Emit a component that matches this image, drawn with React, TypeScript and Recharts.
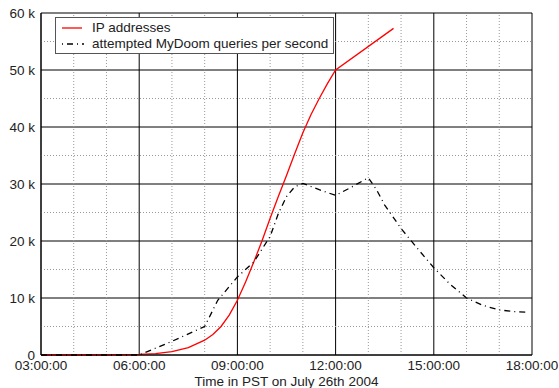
import React from 'react'
import { LineChart, Line, XAxis, YAxis, CartesianGrid, ReferenceLine, Legend } from 'recharts'

// hours since midnight, PST
const ipHours = [3, 4, 5, 6, 6.5, 7, 7.5, 8, 8.25, 8.5, 8.75, 9, 9.25, 9.5, 9.75, 10, 10.25, 10.5, 10.75, 11, 11.25, 11.5, 11.75, 12, 13.77]
const ipValues = [0, 0, 0, 100, 250, 600, 1300, 2600, 3600, 5000, 7000, 9600, 12800, 16300, 20000, 24000, 27800, 31500, 35300, 39000, 42200, 45000, 47600, 50000, 57300]

const queryHours = [3, 4, 5, 6, 7, 8, 8.4, 9, 9.5, 10, 10.25, 10.5, 10.75, 11, 11.5, 12, 12.5, 13, 13.25, 13.5, 14, 14.5, 15, 15.5, 16, 16.5, 17, 17.5, 17.9]
const queryValues = [0, 0, 0, 0, 2400, 5000, 9600, 13700, 16300, 20800, 24800, 27800, 29500, 30100, 29000, 28000, 29500, 31100, 29000, 26300, 22200, 18700, 15300, 12400, 10000, 8700, 7900, 7600, 7500]

const xTicks = [3, 6, 9, 12, 15, 18]
const xMinor = [4, 5, 7, 8, 10, 11, 13, 14, 16, 17]
const yTicks = [0, 10000, 20000, 30000, 40000, 50000, 60000]
const yMinor = [5000, 15000, 25000, 35000, 45000, 55000]

const ipData = ipHours.map((t, i) => ({ t, v: ipValues[i] }))
const queryData = queryHours.map((t, i) => ({ t, v: queryValues[i] }))

const fmtTime = (h: number) => `${String(h).padStart(2, '0')}:00:00`
const fmtK = (v: number) => (v === 0 ? '0' : `${v / 1000} k`)

const font = '"Liberation Sans", Arial, sans-serif'

const LegendBox = () => (
  <div
    style={{
      width: 279,
      height: 37,
      border: '1px solid #555',
      background: '#fff',
      fontFamily: font,
      fontSize: 13.5,
      color: '#222',
      boxSizing: 'border-box',
      position: 'relative',
    }}
  >
    <svg width={30} height={36} style={{ position: 'absolute', left: 0, top: 0 }}>
      <line x1={6} x2={26} y1={10} y2={10} stroke="#ff0000" strokeWidth={1.3} />
      <line x1={6} x2={28} y1={26} y2={26} stroke="#000" strokeWidth={1.3} strokeDasharray="1 4 6 4" />
    </svg>
    <div style={{ position: 'absolute', left: 36, top: 2, lineHeight: '16px', whiteSpace: 'nowrap' }}>IP addresses</div>
    <div style={{ position: 'absolute', left: 36, top: 18, lineHeight: '16px', whiteSpace: 'nowrap' }}>
      attempted MyDoom queries per second
    </div>
  </div>
)

export default function App() {
  return (
    <div style={{ position: 'absolute', left: 0, top: 0, background: '#fff' }}>
      <LineChart width={559} height={388} margin={{ top: 13, right: 27, left: 0, bottom: 0 }}>
        <CartesianGrid stroke="#000" strokeWidth={1} />
        {xMinor.map(h => (
          <ReferenceLine key={'x' + h} x={h} stroke="#999" strokeDasharray="1 2" />
        ))}
        {yMinor.map(v => (
          <ReferenceLine key={'y' + v} y={v} stroke="#999" strokeDasharray="1 2" />
        ))}
        <XAxis
          type="number"
          dataKey="t"
          domain={[3, 18]}
          ticks={xTicks}
          tickFormatter={fmtTime}
          allowDuplicatedCategory={false}
          height={33}
          tickSize={0}
          tickMargin={5}
          axisLine={{ stroke: '#000' }}
          tick={{ fill: '#222', fontSize: 13.5, fontFamily: font }}
          label={{
            value: 'Time in PST on July 26th 2004',
            position: 'insideBottom',
            offset: 2,
            style: { fill: '#222', fontSize: 13.5, fontFamily: font },
          }}
        />
        <YAxis
          type="number"
          domain={[0, 60000]}
          ticks={yTicks}
          tickFormatter={fmtK}
          width={41}
          tickSize={0}
          tickMargin={6}
          axisLine={{ stroke: '#000' }}
          tick={{ fill: '#222', fontSize: 13.5, fontFamily: font }}
        />
        <Legend
          layout="vertical"
          align="center"
          verticalAlign="middle"
          wrapperStyle={{ position: 'absolute', left: 55, top: 17, width: 279 }}
          content={() => <LegendBox />}
        />
        <Line
          data={ipData}
          dataKey="v"
          name="IP addresses"
          type="linear"
          stroke="#ff0000"
          strokeWidth={1.3}
          dot={false}
          isAnimationActive={false}
        />
        <Line
          data={queryData}
          dataKey="v"
          name="attempted MyDoom queries per second"
          type="linear"
          stroke="#000"
          strokeWidth={1.3}
          strokeDasharray="6 4 1 4"
          dot={false}
          isAnimationActive={false}
        />
      </LineChart>
    </div>
  )
}
